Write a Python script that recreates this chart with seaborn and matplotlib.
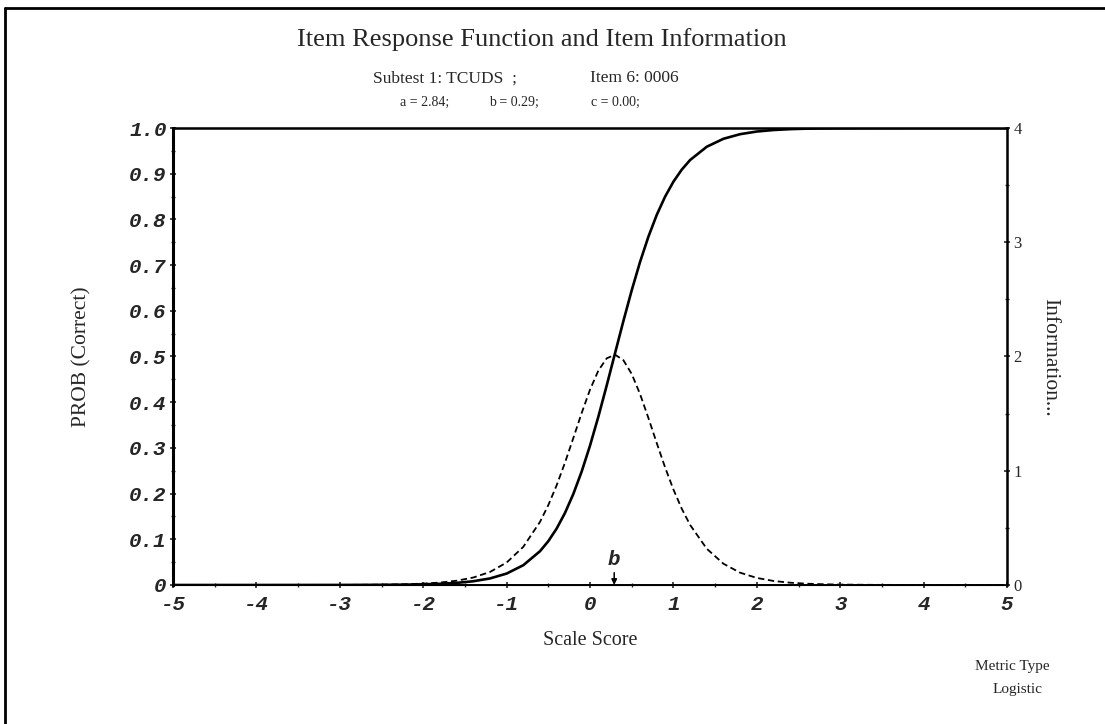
import pandas as pd
import matplotlib.pyplot as plt
import seaborn as sns
from matplotlib.lines import Line2D
from matplotlib.ticker import MultipleLocator

# item parameters (from the subtitle)
item_a = 2.84
item_b = 0.29
item_c = 0.00

# scale score grid and curve values
theta = [-5.0, -4.0, -3.0, -2.6, -2.4, -2.2, -2.0, -1.8, -1.6, -1.4, -1.2, -1.0,
         -0.8, -0.6, -0.5, -0.4, -0.3, -0.2, -0.1, 0.0, 0.1, 0.2, 0.3, 0.4, 0.5,
         0.6, 0.7, 0.8, 0.9, 1.0, 1.1, 1.2, 1.4, 1.6, 1.8, 2.0, 2.2, 2.4, 2.6,
         2.8, 3.0, 3.4, 4.0, 5.0]
prob = [0.0, 0.0, 0.0001, 0.0003, 0.0005, 0.0008, 0.0015, 0.0026, 0.0046, 0.0082,
        0.0143, 0.0250, 0.0433, 0.0739, 0.0959, 0.1235, 0.1577, 0.1992, 0.2483,
        0.3050, 0.3683, 0.4365, 0.5071, 0.5775, 0.6448, 0.7069, 0.7621, 0.8098,
        0.8497, 0.8825, 0.9089, 0.9299, 0.9590, 0.9764, 0.9865, 0.9923, 0.9956,
        0.9975, 0.9986, 0.9992, 0.9995, 0.9999, 1.0, 1.0]
info = [0.0, 0.0, 0.0007, 0.0022, 0.0039, 0.0068, 0.0121, 0.0212, 0.0373, 0.0653,
        0.1138, 0.1965, 0.3339, 0.5521, 0.6993, 0.8729, 1.0712, 1.2864, 1.5055,
        1.7097, 1.8765, 1.9838, 2.0160, 1.9680, 1.8472, 1.6711, 1.4622, 1.2425,
        1.0300, 0.8363, 0.6677, 0.5261, 0.3171, 0.1862, 0.1077, 0.0618, 0.0353,
        0.0201, 0.0114, 0.0065, 0.0037, 0.0012, 0.0001, 0.0]

df = pd.DataFrame({"theta": theta, "prob": prob, "info": info})

sns.set_style("white")
serif = ["Liberation Serif", "DejaVu Serif"]
mono = ["Liberation Mono", "DejaVu Sans Mono"]
plt.rcParams["font.family"] = serif

fig = plt.figure(figsize=(11.05, 7.24), dpi=100)
ax = fig.add_axes([0.1566, 0.192, 0.7547, 0.6312])
ax2 = ax.twinx()

sns.lineplot(data=df, x="theta", y="prob", color="black", linewidth=1.9, ax=ax)
sns.lineplot(data=df, x="theta", y="info", color="black", linewidth=1.3,
             linestyle=(0, (3.5, 2)), ax=ax2)

ax.set_xlim(-5, 5)
ax.set_ylim(0, 1)
ax2.set_ylim(0, 4)
ax.set_xlabel("")
ax.set_ylabel("")
ax2.set_ylabel("")

ax.xaxis.set_major_locator(MultipleLocator(1))
ax.xaxis.set_minor_locator(MultipleLocator(0.5))
ax.yaxis.set_major_locator(MultipleLocator(0.1))
ax.yaxis.set_minor_locator(MultipleLocator(0.05))
ax2.yaxis.set_major_locator(MultipleLocator(1))
ax2.yaxis.set_minor_locator(MultipleLocator(0.5))

ax.set_yticks([i / 10 for i in range(11)])
ax.set_yticklabels(["0"] + [f"{i / 10:.1f}" for i in range(1, 11)])
ax.set_xticks(range(-5, 6))
ax.set_xticklabels([str(i) for i in range(-5, 6)])

for lab in ax.get_xticklabels() + ax.get_yticklabels():
    lab.set_family(mono)
    lab.set_fontweight("bold")
    lab.set_fontstyle("italic")
    lab.set_fontsize(15)
for lab in ax2.get_yticklabels():
    lab.set_family(serif)
    lab.set_fontsize(12)

ax.tick_params(which="major", direction="inout", length=5, width=1.2, pad=2)
ax.tick_params(which="minor", direction="inout", length=3, width=1)
ax.tick_params(axis="x", bottom=True, top=False, which="both", pad=5)
ax.tick_params(axis="y", left=True, right=False, which="both")
ax2.tick_params(which="major", direction="inout", length=5, width=1.2, pad=2)
ax2.tick_params(which="minor", direction="inout", length=3, width=1)

for a in (ax, ax2):
    for side in ["left", "right", "top", "bottom"]:
        a.spines[side].set_visible(True)
        a.spines[side].set_color("black")
ax.spines["left"].set_linewidth(2.2)
ax.spines["top"].set_linewidth(1.8)
ax.spines["bottom"].set_linewidth(1.4)
ax2.spines["right"].set_linewidth(1.8)

# b marker with arrow on the axis
ax.annotate("b", xy=(item_b, 0), xytext=(item_b, 0.034),
            ha="center", va="bottom", family=mono, fontweight="bold",
            fontstyle="italic", fontsize=15,
            arrowprops=dict(arrowstyle="-|>", color="black", lw=1.1,
                            mutation_scale=8, shrinkA=0, shrinkB=0))

# titles and labels
fig.text(0.49, 0.945, "Item Response Function and Item Information",
         ha="center", va="center", fontsize=19)
fig.text(0.3376, 0.892, "Subtest 1: TCUDS  ;", ha="left", va="center", fontsize=12.5)
fig.text(0.534, 0.892, "Item 6: 0006", ha="left", va="center", fontsize=12.5)
fig.text(0.362, 0.858, f"a = {item_a:.2f};", ha="left", va="center", fontsize=10)
fig.text(0.4425, 0.858, f"b = {item_b:.2f};", ha="left", va="center", fontsize=10)
fig.text(0.535, 0.858, f"c = {item_c:.2f};", ha="left", va="center", fontsize=10)

fig.text(0.0742, 0.507, "PROB (Correct)", rotation=90, ha="center", va="center",
         fontsize=15.5)
fig.text(0.950, 0.507, "Information...", rotation=-90, ha="center", va="center",
         fontsize=15.5)
fig.text(0.534, 0.116, "Scale Score", ha="center", va="center", fontsize=14.5)
fig.text(0.916, 0.079, "Metric Type", ha="center", va="center", fontsize=11)
fig.text(0.921, 0.047, "Logistic", ha="center", va="center", fontsize=11)

# page border (left and top edges)
fig.add_artist(Line2D([0.0045, 0.0045], [0.0, 0.989], transform=fig.transFigure,
                      color="black", linewidth=2))
fig.add_artist(Line2D([0.0045, 1.0], [0.989, 0.989], transform=fig.transFigure,
                      color="black", linewidth=2))

fig.savefig("out.png", dpi=100)
plt.close(fig)
